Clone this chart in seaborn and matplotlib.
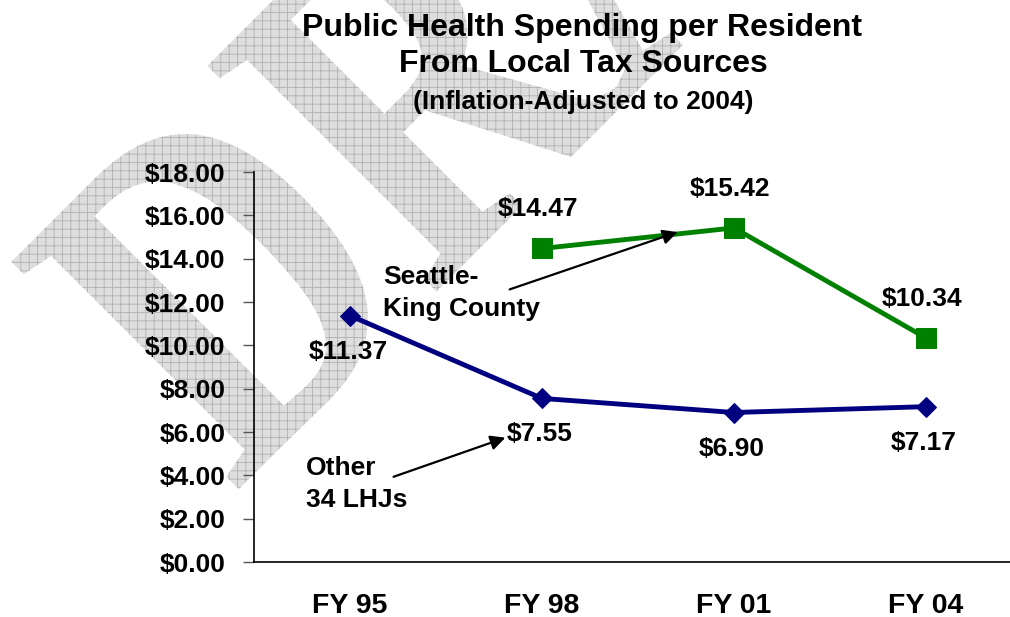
import matplotlib
matplotlib.use("Agg")
import matplotlib.pyplot as plt
import seaborn as sns
import pandas as pd
import numpy as np
from matplotlib.textpath import TextPath
from matplotlib.patches import PathPatch
from matplotlib.font_manager import FontProperties
from matplotlib.transforms import Affine2D, IdentityTransform

# ---- data ----
categories = ["FY 95", "FY 98", "FY 01", "FY 04"]
other_values = [11.37, 7.55, 6.90, 7.17]
seattle_values = [np.nan, 14.47, 15.42, 10.34]
y_ticks = [0, 2, 4, 6, 8, 10, 12, 14, 16, 18]

title_lines = ["Public Health Spending per Resident", "From Local Tax Sources"]
subtitle = "(Inflation-Adjusted to 2004)"

sns.set_style("white")
plt.rcParams["font.family"] = ["Liberation Sans", "DejaVu Sans"]
plt.rcParams["font.weight"] = "bold"
plt.rcParams["text.color"] = "black"
plt.rcParams["axes.labelcolor"] = "black"
plt.rcParams["xtick.color"] = "black"
plt.rcParams["ytick.color"] = "black"
plt.rcParams["hatch.linewidth"] = 0.6

W, H = 1010, 617
fig = plt.figure(figsize=(W / 100, H / 100), dpi=100)

# ---- DRAFT watermark ----
fp = FontProperties(family="Liberation Serif")
tp = TextPath((0, 0), "DRAFT", size=1, prop=fp)
wm = tp.transformed(Affine2D().scale(384, 491).rotate_deg(45).translate(234, 123))
patch = PathPatch(wm, transform=IdentityTransform(), facecolor="#dedede",
                  edgecolor="#b0b0b0", lw=0, hatch="++", zorder=-5)
fig.add_artist(patch)

# ---- axes ----
ax = fig.add_axes([254 / W, 55 / H, 768 / W, 390 / H])
ax.set_facecolor("none")

df = pd.DataFrame({
    "idx": list(range(len(categories))) * 2,
    "value": other_values + seattle_values,
    "series": ["Other"] * len(categories) + ["Seattle"] * len(categories),
}).dropna()

navy = "#000080"
green = "#008000"
d_other = df[df.series == "Other"]
d_sea = df[df.series == "Seattle"]
sns.lineplot(data=d_other, x="idx", y="value", ax=ax, color=navy, lw=3.5,
             marker="D", markersize=10, markeredgecolor=navy, legend=False)
sns.lineplot(data=d_sea, x="idx", y="value", ax=ax, color=green, lw=3.5,
             marker="s", markersize=15, markeredgecolor=green, legend=False)

ax.set_xlim(-0.5, 3.5)
ax.set_ylim(0, 18)
ax.set_yticks(y_ticks)
ax.set_yticklabels([f"${v:.2f}" for v in y_ticks], fontsize=19, fontweight="bold")
ax.set_xticks(range(len(categories)))
ax.set_xticklabels(categories, fontsize=20.5, fontweight="bold")
ax.tick_params(axis="y", length=8, width=1, color="#555555", pad=12.5, direction="out", left=True)
ax.tick_params(axis="x", length=0, pad=22.5)
ax.set_xlabel("")
ax.set_ylabel("")
for s in ["top", "right"]:
    ax.spines[s].set_visible(False)
for s in ["left", "bottom"]:
    ax.spines[s].set_color("black")
    ax.spines[s].set_linewidth(1.2)
ax.grid(False)

# value labels
for i, v in enumerate(other_values):
    ax.annotate(f"${v:.2f}", (i, v), xytext=(-2, -36), textcoords="offset pixels",
                ha="center", va="center", fontsize=19, fontweight="bold")
for i, v in enumerate(seattle_values):
    if not np.isnan(v):
        ax.annotate(f"${v:.2f}", (i, v), xytext=(-4, 39), textcoords="offset pixels",
                    ha="center", va="center", fontsize=19, fontweight="bold")

# series annotations
ax.text(0.172, 12.42, "Seattle-\nKing County", ha="left", va="center",
        fontsize=19, fontweight="bold", linespacing=1.4)
ax.annotate("", xy=(1.72, 15.27), xytext=(0.818, 12.54),
            arrowprops=dict(arrowstyle="-|>", lw=1.6, color="black", mutation_scale=22))
ax.text(-0.229, 3.59, "Other\n34 LHJs", ha="left", va="center",
        fontsize=19, fontweight="bold", linespacing=1.4)
ax.annotate("", xy=(0.823, 5.78), xytext=(0.213, 3.89),
            arrowprops=dict(arrowstyle="-|>", lw=1.6, color="black", mutation_scale=22))

# title
fig.text(582 / W, 1 - 28 / H, title_lines[0], ha="center", va="center",
         fontsize=23, fontweight="bold")
fig.text(583 / W, 1 - 64 / H, title_lines[1], ha="center", va="center",
         fontsize=23, fontweight="bold")
fig.text(583 / W, 1 - 102 / H, subtitle, ha="center", va="center",
         fontsize=19, fontweight="bold")

fig.savefig("out.png", dpi=100)
